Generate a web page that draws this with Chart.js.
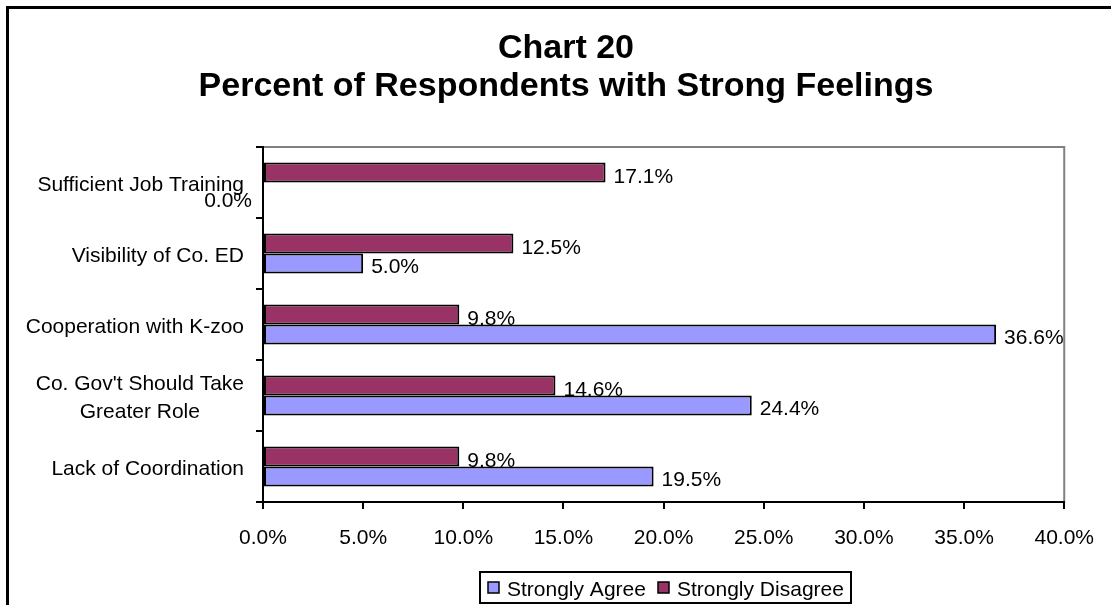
<!DOCTYPE html>
<html lang="en">
<head>
  <meta charset="UTF-8">
  <title>Chart 20</title>
  <script src="https://cdn.jsdelivr.net/npm/chart.js"></script>
  <style>
    html, body { margin: 0; padding: 0; background: #fff; }
    #wrap { width: 1111px; height: 605px; }
  </style>
</head>
<body>
  <div id="wrap"><canvas id="grafico" width="1111" height="605"></canvas></div>

<script>
  const categories = [
    'Sufficient Job Training',
    'Visibility of Co. ED',
    'Cooperation with K-zoo',
    ["Co. Gov't Should Take", 'Greater Role'],
    'Lack of Coordination'
  ];
  const stronglyAgree = [0.0, 5.0, 36.6, 24.4, 19.5];
  const stronglyDisagree = [17.1, 12.5, 9.8, 14.6, 9.8];
  const titleLines = ['Chart 20', 'Percent of Respondents with Strong Feelings'];
  const xMin = 0, xMax = 40, xStep = 5;

  const FONT = 'Liberation Sans, Arial, sans-serif';
  const agreeColor = '#9999FF';
  const disagreeColor = '#993366';

  // frame, title, plot border, category labels, legend
  const decor = {
    id: 'decor',
    beforeDraw(chart) {
      const c = chart.ctx, a = chart.chartArea;
      c.save();
      c.strokeStyle = '#000';
      c.lineWidth = 3;
      c.strokeRect(7.5, 7.5, 1300, 800);

      c.fillStyle = '#000';
      c.font = 'bold 34px ' + FONT;
      c.textAlign = 'center';
      c.textBaseline = 'alphabetic';
      c.fillText(titleLines[0], 566, 58);
      c.fillText(titleLines[1], 566, 96);

      c.strokeStyle = '#808080';
      c.lineWidth = 2;
      c.strokeRect(a.left, a.top, a.right - a.left, a.bottom - a.top);
      c.restore();
    },
    afterDraw(chart) {
      const c = chart.ctx, y = chart.scales.y;
      c.save();
      c.fillStyle = '#000';
      c.font = '21px ' + FONT;
      c.textBaseline = 'alphabetic';
      const right = 244, lh = 28;
      categories.forEach((lab, i) => {
        const lines = Array.isArray(lab) ? lab : [lab];
        const w = Math.max(...lines.map(l => c.measureText(l).width));
        const cx = right - w / 2;
        const yc = y.getPixelForTick(i);
        c.textAlign = 'center';
        lines.forEach((l, k) => {
          c.fillText(l, cx, yc + 8.5 + (k - (lines.length - 1) / 2) * lh);
        });
      });

      // legend
      c.strokeStyle = '#000';
      c.lineWidth = 2;
      c.strokeRect(480, 572, 371, 31);
      const items = [['Strongly Agree', agreeColor, 488], ['Strongly Disagree', disagreeColor, 658]];
      c.textAlign = 'left';
      items.forEach(([txt, col, x]) => {
        c.fillStyle = col;
        c.fillRect(x, 582, 11, 11);
        c.lineWidth = 1.5;
        c.strokeRect(x, 582, 11, 11);
        c.fillStyle = '#000';
        c.fillText(txt, x + 19, 596);
      });
      c.restore();
    }
  };

  const valueLabels = {
    id: 'valueLabels',
    afterDatasetsDraw(chart) {
      const c = chart.ctx;
      c.save();
      c.fillStyle = '#000';
      c.font = '21px ' + FONT;
      c.textBaseline = 'alphabetic';
      chart.data.datasets.forEach((ds, i) => {
        chart.getDatasetMeta(i).data.forEach((bar, j) => {
          const v = ds.data[j];
          const txt = v.toFixed(1) + '%';
          if (v === 0) {
            c.textAlign = 'right';
            c.fillText(txt, bar.base - 11, bar.y + 15);
          } else {
            c.textAlign = 'left';
            c.fillText(txt, bar.x + 8, bar.y + 10);
          }
        });
      });
      c.restore();
    }
  };

  new Chart(document.getElementById('grafico'), {
    type: 'bar',
    data: {
      labels: categories,
      datasets: [
        {
          label: 'Strongly Disagree',
          data: stronglyDisagree,
          backgroundColor: disagreeColor,
          borderColor: '#000',
          borderWidth: 2,
          borderSkipped: false
        },
        {
          label: 'Strongly Agree',
          data: stronglyAgree,
          backgroundColor: agreeColor,
          borderColor: '#000',
          borderWidth: 2,
          borderSkipped: false
        }
      ]
    },
    options: {
      indexAxis: 'y',
      responsive: false,
      animation: false,
      categoryPercentage: 0.563,
      barPercentage: 1,
      layout: { padding: { left: 253, top: 147, right: 42, bottom: 53 } },
      scales: {
        x: {
          min: xMin,
          max: xMax,
          afterFit: s => { s.height = 50; },
          ticks: {
            stepSize: xStep,
            color: '#000',
            padding: 17,
            font: { family: FONT, size: 21 },
            callback: v => v.toFixed(1) + '%'
          },
          grid: { drawOnChartArea: false, tickLength: 7, color: '#000', lineWidth: 2 },
          border: { color: '#000', width: 2 }
        },
        y: {
          afterFit: s => { s.width = 10; },
          ticks: { display: false },
          grid: { drawOnChartArea: false, offset: true, tickLength: 7, color: '#000', lineWidth: 2 },
          border: { color: '#000', width: 2 }
        }
      },
      plugins: {
        legend: { display: false },
        title: { display: false },
        tooltip: { enabled: false }
      }
    },
    plugins: [decor, valueLabels]
  });
</script>
</body>
</html>
